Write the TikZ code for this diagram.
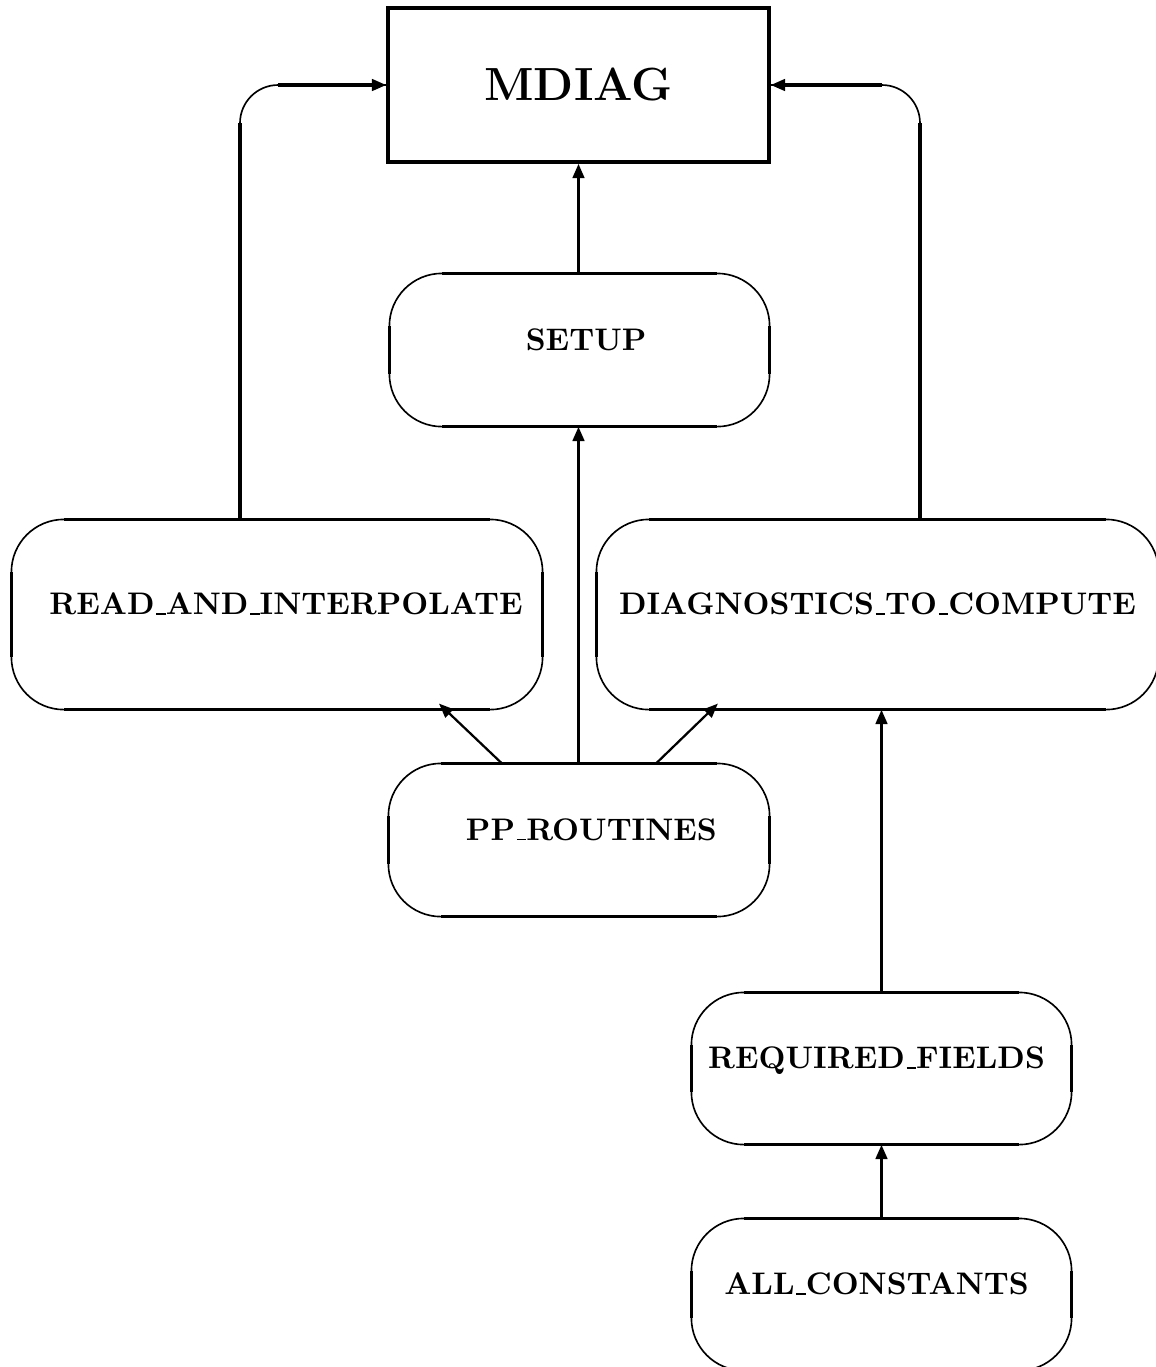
\documentclass[tikz,border=0pt]{standalone}
\usetikzlibrary{arrows.meta,calc}
\newcommand\ulbar{\leavevmode\kern.06em\vbox{\hrule width.3em height 0.5pt}}
\tikzset{x=0.33333pt,y=-0.33333pt,
  box/.style={draw=none, inner sep=0pt, text height=0pt, text depth=0pt, font=\fontsize{10.4}{12.5}\selectfont\bfseries},
  thinline/.style={line width=0.55pt},
  thickline/.style={line width=1.1pt},
  conn/.style={line width=1.05pt, -{Triangle[length=4.8pt,width=3.8pt]}},
}
\newcommand\ovalnode[7]{% name, cx, cy, w, h, kern(pt), text
  \node[box, minimum width=#4*0.33333pt, minimum height=#5*0.33333pt] (#1) at (#2,#3) {\kern#6pt #7};
  \draw[thinline, rounded corners=17.5pt] (#1.north west) rectangle (#1.south east);
  \draw[thickline] ([xshift=17.5pt]#1.north west) -- ([xshift=-17.5pt]#1.north east)
     ([xshift=17.5pt]#1.south west) -- ([xshift=-17.5pt]#1.south east)
     ([yshift=-17.5pt]#1.north west) -- ([yshift=17.5pt]#1.south west)
     ([yshift=-17.5pt]#1.north east) -- ([yshift=17.5pt]#1.south east);
}
\begin{document}
\begin{tikzpicture}
\useasboundingbox (0,0) rectangle (1156,1367);
% main box
\node[draw, line width=1.1pt, inner sep=0pt, minimum width=381*0.33333pt, minimum height=154*0.33333pt,
      text height=10.6pt, text depth=0pt, font=\fontsize{15.5}{18}\selectfont\bfseries] (mdiag) at (578.5,85) {MDIAG};
% ovals
\ovalnode{setup}{579.5}{350}{379}{152}{4.4}{SETUP}
\ovalnode{read}{277}{614.5}{530}{189}{6}{READ\ulbar AND\ulbar INTERPOLATE}
\ovalnode{diag}{877.5}{614.5}{561}{189}{0}{DIAGNOSTICS\ulbar TO\ulbar COMPUTE}
\ovalnode{pp}{579}{840}{380}{152}{8.3}{PP\ulbar ROUTINES}
\ovalnode{req}{881.5}{1068.5}{379}{151}{-3.3}{REQUIRED\ulbar FIELDS}
\ovalnode{all}{881.5}{1294.5}{379}{151}{-3.3}{ALL\ulbar CONSTANTS}
% elbow connectors
\coordinate (lt) at (240,85);
\coordinate (rt) at (920,85);
\draw[thinline, rounded corners=12.7pt] (lt |- read.north) -- (lt) -- (mdiag.west);
\draw[thickline] (lt |- read.north) -- ([yshift=-12.7pt]lt);
\draw[conn] ([xshift=12.7pt]lt) -- (mdiag.west);
\draw[thinline, rounded corners=12.7pt] (rt |- diag.north) -- (rt) -- (mdiag.east);
\draw[thickline] (rt |- diag.north) -- ([yshift=-12.7pt]rt);
\draw[conn] ([xshift=-12.7pt]rt) -- (mdiag.east);
% vertical connectors
\draw[conn] (mdiag.south |- setup.north) -- (mdiag.south);
\draw[conn] (mdiag.south |- pp.north) -- (mdiag.south |- setup.south);
\draw[conn, line width=0.75pt] ([xshift=-25.7pt]pp.north) -- ([xshift=54pt,yshift=2pt]read.south);
\draw[conn, line width=0.75pt] ([xshift=25.7pt]pp.north) -- ([xshift=-53.2pt,yshift=2pt]diag.south);
\draw[conn] (req.north) -- (req.north |- diag.south);
\draw[conn] (all.north) -- (req.south);
\end{tikzpicture}
\end{document}
